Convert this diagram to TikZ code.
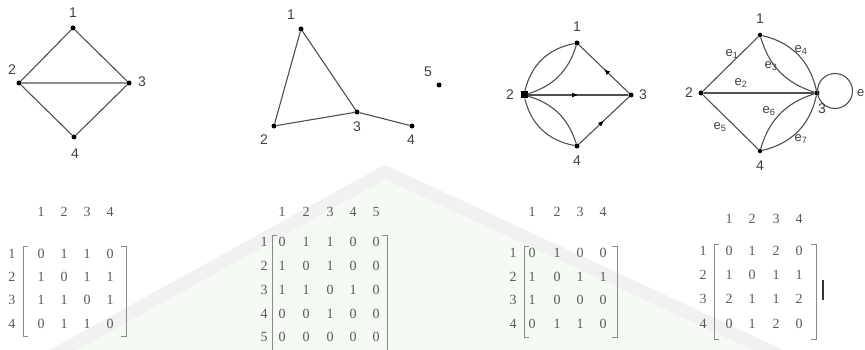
\documentclass[tikz,border=0pt]{standalone}
\usepackage{fontspec}
\setmainfont{Liberation Serif}
\newfontfamily\arial{Liberation Sans}
\usetikzlibrary{arrows.meta,decorations.markings}
\definecolor{ln}{HTML}{505050}
\definecolor{lab}{HTML}{404040}
\definecolor{mtx}{HTML}{5A5A5A}
\definecolor{brk}{HTML}{8A8A8A}
\definecolor{wmg}{HTML}{F1F1F1}
\definecolor{wmf}{HTML}{F6FAF5}
\tikzset{
  vtx/.style={circle,fill=black,inner sep=0pt,minimum size=5pt},
  vlab/.style={font=\arial\fontsize{14}{14}\selectfont,text=lab,inner sep=0pt},
  elab/.style={font=\arial\fontsize{13}{13}\selectfont,text=lab,inner sep=0pt},
  edge/.style={draw=ln,line width=1.1pt},
  num/.style={font=\fontsize{14}{14}\selectfont,text=mtx,inner sep=0pt},
  brack/.style={draw=brk,line width=0.8pt},
  midarrow/.style={postaction={decorate},decoration={markings,mark=at position 0.5 with {\arrow[black]{Latex[length=6pt,width=5pt]}}}}
}
\begin{document}
\begin{tikzpicture}[x=1pt,y=-1pt]
\useasboundingbox (0,0) rectangle (865,350);
\fill[white] (0,0) rectangle (865,350);
% faint watermark
\fill[wmf] (0,385) -- (385,172) -- (865,395) -- (865,350) -- (0,350) -- cycle;
\draw[wmg,line width=13pt,line join=round] (0,385) -- (385,172) -- (865,395);

% ---------- Graph 1 ----------
\node[vtx] (a1) at (73,28) {};
\node[vtx] (a2) at (19,83) {};
\node[vtx] (a3) at (129,83) {};
\node[vtx] (a4) at (74,137) {};
\draw[edge] (a1) -- (a2) (a1) -- (a3) (a2) -- (a3) (a2) -- (a4) (a3) -- (a4);
\node[vlab] (la1) at (73,13) {1};
\node[vlab] (la2) at (12,70) {2};
\node[vlab] (la3) at (142,82) {3};
\node[vlab] (la4) at (75,154) {4};

% ---------- Graph 2 ----------
\node[vtx] (b1) at (301,29) {};
\node[vtx] (b2) at (274,126) {};
\node[vtx] (b3) at (357,112) {};
\node[vtx] (b4) at (412,126) {};
\node[vtx] (b5) at (439,85) {};
\draw[edge] (b1) -- (b2) (b1) -- (b3) (b2) -- (b3) (b3) -- (b4);
\node[vlab] (lb1) at (291,15) {1};
\node[vlab] (lb2) at (264,140) {2};
\node[vlab] (lb3) at (357,127) {3};
\node[vlab] (lb4) at (411,140) {4};
\node[vlab] (lb5) at (428,72) {5};

% ---------- Graph 3 ----------
\node[vtx] (c1) at (577,43) {};
\node[vtx,rectangle,minimum size=7pt] (c2) at (524,95) {};
\node[vtx] (c3) at (631,95) {};
\node[vtx] (c4) at (577,146) {};
\draw[edge] (c2) to[bend left=33] (c1);
\draw[edge] (c2) to[bend right=28] (c1);
\draw[edge] (c2) to[bend right=33] (c4);
\draw[edge] (c2) to[bend left=28] (c4);
\draw[edge,midarrow] (c3) -- (c1);
\draw[edge,midarrow] (c2) -- (c3);
\draw[edge,midarrow] (c4) -- (c3);
\node[vlab] (lc1) at (577,27) {1};
\node[vlab] (lc2) at (510,95) {2};
\node[vlab] (lc3) at (643,95) {3};
\node[vlab] (lc4) at (577,161) {4};

% ---------- Graph 4 ----------
\node[vtx,minimum size=4.5pt] (d1) at (760,35) {};
\node[vtx] (d2) at (701,93) {};
\node[vtx] (d3) at (817,93) {};
\node[vtx,minimum size=4.5pt] (d4) at (760,151) {};
\draw[edge] (d1) -- (d2);
\draw[edge,line width=2pt] (d2) -- (d3);
\draw[edge] (d2) -- (d4);
\draw[edge] (d1) to[bend left=32] (d3);
\draw[edge] (d1) to[bend right=28] (d3);
\draw[edge] (d4) to[bend right=32] (d3);
\draw[edge] (d4) to[bend left=28] (d3);
\coordinate (lpc) at (835,91);
\draw[edge] (lpc) circle (17.5);
\node[vlab] (ld1) at (760,19) {1};
\node[vlab] (ld2) at (689,93) {2};
\node[vlab] (ld3) at (822,109) {3};
\node[vlab] (ld4) at (760,166) {4};
\node[elab,anchor=west] (le8) at (857,93) {e};
\node[elab] (e1) at (732,54) {e\textsubscript{1}};
\node[elab] (e2) at (741,83) {e\textsubscript{2}};
\node[elab] (e3) at (771,66) {e\textsubscript{3}};
\node[elab] (e4) at (801,50) {e\textsubscript{4}};
\node[elab] (e5) at (720,127) {e\textsubscript{5}};
\node[elab] (e6) at (769,111) {e\textsubscript{6}};
\node[elab] (e7) at (801,139) {e\textsubscript{7}};

% ---------- Matrix 1 ----------
\foreach \c [count=\i] in {41,64,87,110} \node[num] (m1h\i) at (\c,212) {\i};
\foreach \r [count=\i] in {254,277,300,324} \node[num] (m1r\i) at (12,\r) {\i};
\foreach \row [count=\j] in {{0,1,1,0},{1,0,1,1},{1,1,0,1},{0,1,1,0}}{
  \foreach \v [count=\i] in \row {
    \pgfmathsetmacro{\xx}{{41,64,87,110}[\i-1]}
    \pgfmathsetmacro{\yy}{{254,277,300,324}[\j-1]}
    \node[num] at (\xx,\yy) {\v};
  }
}
\draw[brack] (28,246) -- (23,246) -- (23,336) -- (28,336);
\draw[brack] (121,246) -- (126,246) -- (126,336) -- (121,336);

% ---------- Matrix 2 ----------
\foreach \c [count=\i] in {282,306,330,353,376} \node[num] (m2h\i) at (\c,212) {\i};
\foreach \r [count=\i] in {242,266,290,314,337} \node[num] (m2r\i) at (264,\r) {\i};
\foreach \row [count=\j] in {{0,1,1,0,0},{1,0,1,0,0},{1,1,0,1,0},{0,0,1,0,0},{0,0,0,0,0}}{
  \foreach \v [count=\i] in \row {
    \pgfmathsetmacro{\xx}{{282,306,330,353,376}[\i-1]}
    \pgfmathsetmacro{\yy}{{242,266,290,314,337}[\j-1]}
    \node[num] at (\xx,\yy) {\v};
  }
}
\draw[brack] (277,235) -- (272,235) -- (272,352);
\draw[brack] (382,235) -- (387,235) -- (387,352);

% ---------- Matrix 3 ----------
\foreach \c [count=\i] in {532,557,580,603} \node[num] (m3h\i) at (\c,212) {\i};
\foreach \r [count=\i] in {253,277,300,324} \node[num] (m3r\i) at (513,\r) {\i};
\foreach \row [count=\j] in {{0,1,0,0},{1,0,1,1},{1,0,0,0},{0,1,1,0}}{
  \foreach \v [count=\i] in \row {
    \pgfmathsetmacro{\xx}{{532,557,580,603}[\i-1]}
    \pgfmathsetmacro{\yy}{{253,277,300,324}[\j-1]}
    \node[num] at (\xx,\yy) {\v};
  }
}
\draw[brack] (529,246) -- (524,246) -- (524,337) -- (529,337);
\draw[brack] (612,246) -- (617,246) -- (617,337) -- (612,337);

% ---------- Matrix 4 ----------
\foreach \c [count=\i] in {729,752,776,799} \node[num] (m4h\i) at (\c,219) {\i};
\foreach \r [count=\i] in {251,275,299,324} \node[num] (m4r\i) at (703,\r) {\i};
\foreach \row [count=\j] in {{0,1,2,0},{1,0,1,1},{2,1,1,2},{0,1,2,0}}{
  \foreach \v [count=\i] in \row {
    \pgfmathsetmacro{\xx}{{729,752,776,799}[\i-1]}
    \pgfmathsetmacro{\yy}{{251,275,299,324}[\j-1]}
    \node[num] at (\xx,\yy) {\v};
  }
}
\draw[brack] (719,244) -- (714,244) -- (714,339) -- (719,339);
\draw[brack] (811,244) -- (816,244) -- (816,339) -- (811,339);
\draw[line width=2pt,draw=black!80] (823,280) -- (823,300);
\end{tikzpicture}
\end{document}
